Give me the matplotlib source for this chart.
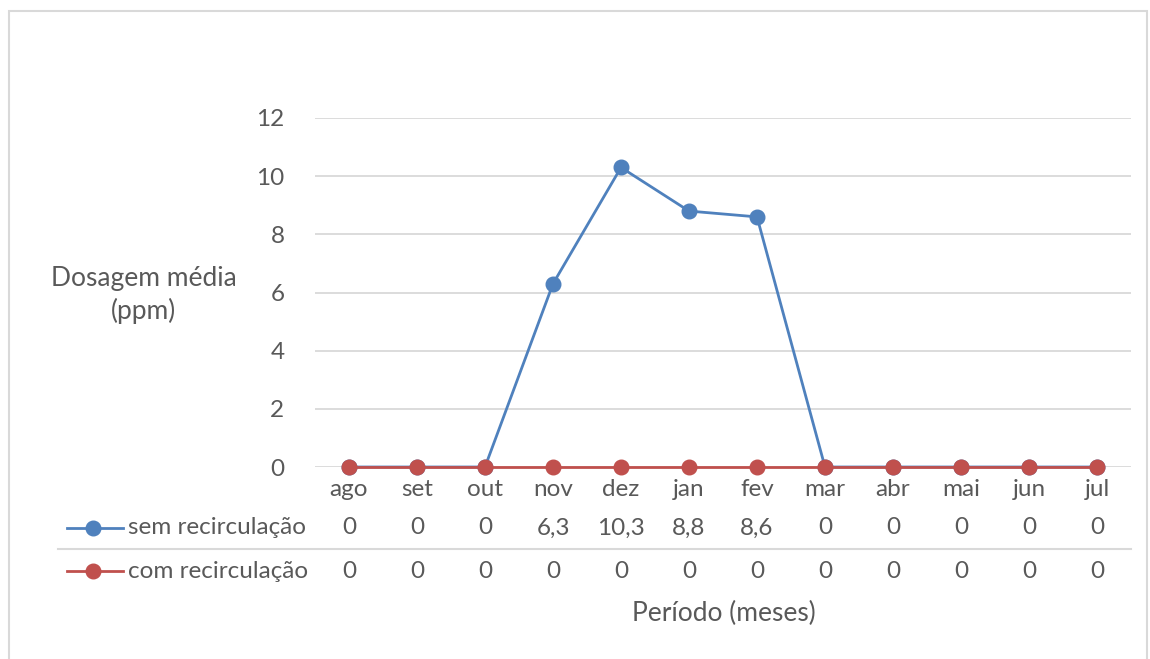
import matplotlib
matplotlib.use("Agg")
import matplotlib.pyplot as plt
from matplotlib.transforms import blended_transform_factory
from matplotlib.lines import Line2D
from matplotlib.patches import Rectangle

plt.rcParams['font.family'] = ['Lato', 'DejaVu Sans']

months = ["ago", "set", "out", "nov", "dez", "jan", "fev", "mar", "abr", "mai", "jun", "jul"]
sem_recirculacao = [0, 0, 0, 6.3, 10.3, 8.8, 8.6, 0, 0, 0, 0, 0]
com_recirculacao = [0, 0, 0, 0, 0, 0, 0, 0, 0, 0, 0, 0]
series_names = ["sem recirculação", "com recirculação"]
y_ticks = [0, 2, 4, 6, 8, 10, 12]

BLUE = "#4F81BD"
RED = "#C0504D"
TEXT = "#595959"
GRID = "#D9D9D9"
FS = 17.5
FS_TITLE = 19

W, H = 1150, 659
fig = plt.figure(figsize=(W / 100, H / 100), dpi=100)

def fx(px):
    return px / W

def fy(py):
    return 1 - py / H

# chart frame
fig.patches.append(Rectangle((fx(9), fy(670)), fx(1147) - fx(9), fy(11) - fy(670),
                             transform=fig.transFigure, fill=False,
                             edgecolor=GRID, linewidth=1.5))

ax = fig.add_axes([fx(315), fy(467), fx(1131) - fx(315), fy(118) - fy(467)])
x = list(range(len(months)))
ax.set_xlim(-0.5, len(months) - 0.5)
ax.set_ylim(0, 12)
for s in ax.spines.values():
    s.set_visible(False)
ax.set_yticks(y_ticks)
ax.set_yticklabels([str(v) for v in y_ticks], fontsize=FS, color=TEXT)
ax.tick_params(axis='y', length=0, pad=22)
ax.set_xticks([])
for v in y_ticks:
    ax.axhline(v, color=GRID, linewidth=1.3, zorder=0)

ax.plot(x, sem_recirculacao, color=BLUE, linewidth=2, marker='o',
        markersize=10.5, clip_on=False, zorder=3)
ax.plot(x, com_recirculacao, color=RED, linewidth=2, marker='o',
        markersize=10.5, clip_on=False, zorder=4)

tr = blended_transform_factory(ax.transData, fig.transFigure)

# category labels
for i, m in enumerate(months):
    ax.text(i, fy(489), m, transform=tr, ha='center', va='center',
            fontsize=FS, color=TEXT)

def fmt(v):
    return ("%g" % v).replace(".", ",")

# data table rows
rows = [(sem_recirculacao, BLUE, 528), (com_recirculacao, RED, 571)]
for (vals, col, ypx), name in zip(rows, series_names):
    for i, v in enumerate(vals):
        ax.text(i, fy(ypx), fmt(v), transform=tr, ha='center', va='center',
                fontsize=FS, color=TEXT)
    fig.lines.append(Line2D([fx(67), fx(123)], [fy(ypx), fy(ypx)],
                            transform=fig.transFigure, color=col, linewidth=2))
    fig.lines.append(Line2D([fx(93)], [fy(ypx)], transform=fig.transFigure,
                            color=col, marker='o', markersize=10.5))
    fig.text(fx(128), fy(ypx), name, ha='left', va='center',
             fontsize=FS, color=TEXT)

# divider between table rows
fig.lines.append(Line2D([fx(58), fx(1131)], [fy(549), fy(549)],
                        transform=fig.transFigure, color=GRID, linewidth=1.5))

fig.text(fx(144), fy(295), "Dosagem média\n(ppm)", ha='center', va='center',
         fontsize=FS_TITLE, color=TEXT, linespacing=1.3)
fig.text(fx(724), fy(613), "Período (meses)", ha='center', va='center',
         fontsize=FS_TITLE, color=TEXT)

fig.savefig("out.png", dpi=100, facecolor="white")
